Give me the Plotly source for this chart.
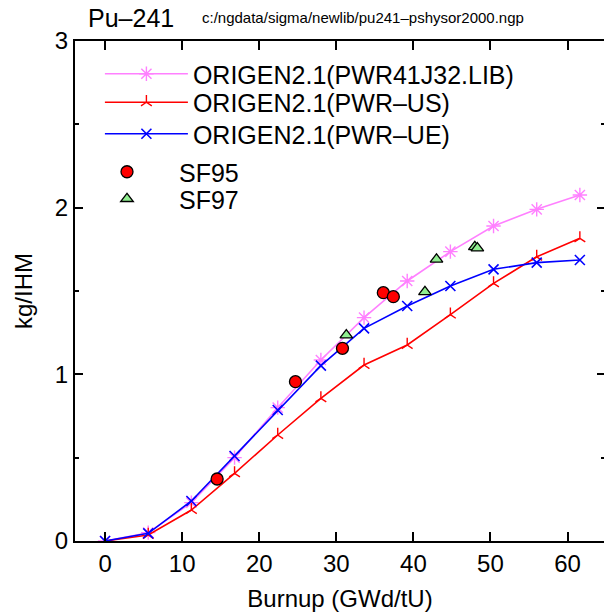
import plotly.graph_objects as go

# ---- data ----
burnup = [0, 5.6, 11.2, 16.8, 22.4, 28.0, 33.6, 39.2, 44.8, 50.4, 56.0, 61.6]
pwr41j32 = [0, 0.05, 0.23, 0.50, 0.80, 1.086, 1.34, 1.56, 1.736, 1.89, 1.99, 2.076]
pwr_us = [0, 0.036, 0.186, 0.406, 0.636, 0.856, 1.056, 1.176, 1.358, 1.546, 1.705, 1.816]
pwr_ue = [0, 0.046, 0.24, 0.51, 0.786, 1.052, 1.276, 1.41, 1.53, 1.63, 1.67, 1.686]

sf95_x = [14.54, 24.7, 30.8, 36.1, 37.4]
sf95_y = [0.372, 0.956, 1.156, 1.49, 1.466]
sf97_x = [31.3, 41.5, 43.0, 47.97, 48.3]
sf97_y = [1.235, 1.495, 1.69, 1.765, 1.757]

FONT = "Liberation Sans, Arial, Helvetica, sans-serif"

# figure slightly wider than the window so the right frame line falls just outside it,
# as in the reference (body margin removed and overflow hidden below)
W, H = 607, 615
ML, MT, MB = 75, 41, 74
PW, PH = W - ML, H - MT - MB  # 532 x 500


def px_x(px):
    return (px - ML) / PW


def px_y(py):
    return 1 - (py - MT) / PH


fig = go.Figure()

fig.add_trace(go.Scatter(
    x=burnup, y=pwr41j32, mode="lines+markers", name="ORIGEN2.1(PWR41J32.LIB)",
    line=dict(color="#ff80ff", width=1.6),
    marker=dict(symbol="asterisk-open", size=12, color="#ff80ff", line=dict(color="#ff80ff", width=1.4)),
    legend="legend", showlegend=True,
))
fig.add_trace(go.Scatter(
    x=burnup, y=pwr_us, mode="lines+markers", name="ORIGEN2.1(PWR\u2013US)",
    line=dict(color="#ff0000", width=1.6),
    marker=dict(symbol="y-up", size=9, color="#ff0000", line=dict(color="#ff0000", width=1.4)),
    legend="legend2", showlegend=True,
))
fig.add_trace(go.Scatter(
    x=burnup, y=pwr_ue, mode="lines+markers", name="ORIGEN2.1(PWR\u2013UE)",
    line=dict(color="#0000ff", width=1.6),
    marker=dict(symbol="x-thin-open", size=10, color="#0000ff", line=dict(color="#0000ff", width=1.6)),
    legend="legend3", showlegend=True,
))
fig.add_trace(go.Scatter(
    x=sf95_x, y=sf95_y, mode="markers", name="SF95",
    marker=dict(symbol="circle", size=12, color="#ff0000", line=dict(color="black", width=1.3)),
    legend="legend4", showlegend=True,
))
fig.add_trace(go.Scatter(
    x=sf97_x, y=sf97_y, mode="markers", name="SF97",
    marker=dict(symbol="triangle-up", size=11, color="#90ee90", line=dict(color="black", width=1.3)),
    legend="legend5", showlegend=True,
))

axis_common = dict(
    showline=True, linecolor="black", linewidth=2, mirror="ticks",
    ticks="inside", tickcolor="black", tickwidth=1.5,
    showgrid=False, zeroline=False,
    tickfont=dict(family=FONT, size=24, color="black"),
)

fig.update_xaxes(
    **axis_common, range=[-3.9, 64.86], tickmode="linear", tick0=0, dtick=10, ticklen=9,
    title=dict(text="Burnup (GWd/tU)", font=dict(family=FONT, size=24, color="black"), standoff=14),
)
fig.update_yaxes(
    **axis_common, range=[0, 3], tickmode="linear", tick0=0, dtick=1, ticklen=8,
    minor=dict(dtick=0.5, ticks="inside", ticklen=4, tickcolor="black", tickwidth=1.5),
    title=dict(text="kg/IHM", font=dict(family=FONT, size=24, color="black"), standoff=15),
)

fig.add_annotation(
    text="Pu\u2013241", xref="paper", yref="paper", x=px_x(86), y=px_y(18),
    xanchor="left", yanchor="middle", showarrow=False,
    font=dict(family=FONT, size=25, color="black"),
)
fig.add_annotation(
    text="c:/ngdata/sigma/newlib/pu241\u2013pshysor2000.ngp", xref="paper", yref="paper",
    x=px_x(200), y=px_y(18),
    xanchor="left", yanchor="middle", showarrow=False,
    font=dict(family=FONT, size=15, color="black"),
)

leg_font = dict(family=FONT, size=25, color="black")


def leg(x_px, top_px, itemwidth):
    return dict(
        x=px_x(x_px), y=px_y(top_px), xanchor="left", yanchor="top",
        bgcolor="rgba(0,0,0,0)", font=leg_font, itemwidth=itemwidth,
    )


fig.update_layout(
    width=W, height=H,
    margin=dict(l=ML, r=0, t=MT, b=MB),
    plot_bgcolor="white", paper_bgcolor="white",
    font=dict(family=FONT, color="black"),
    showlegend=True,
    legend=leg(100, 51, 83),
    legend2=leg(100, 79.5, 83),
    legend3=leg(100, 111, 83),
    legend4=leg(75, 149, 94),
    legend5=leg(75, 176, 94),
)

fig.write_html(
    "out.html",
    config={"displayModeBar": False},
    post_script="document.body.style.margin='0';document.body.style.overflow='hidden';",
)
